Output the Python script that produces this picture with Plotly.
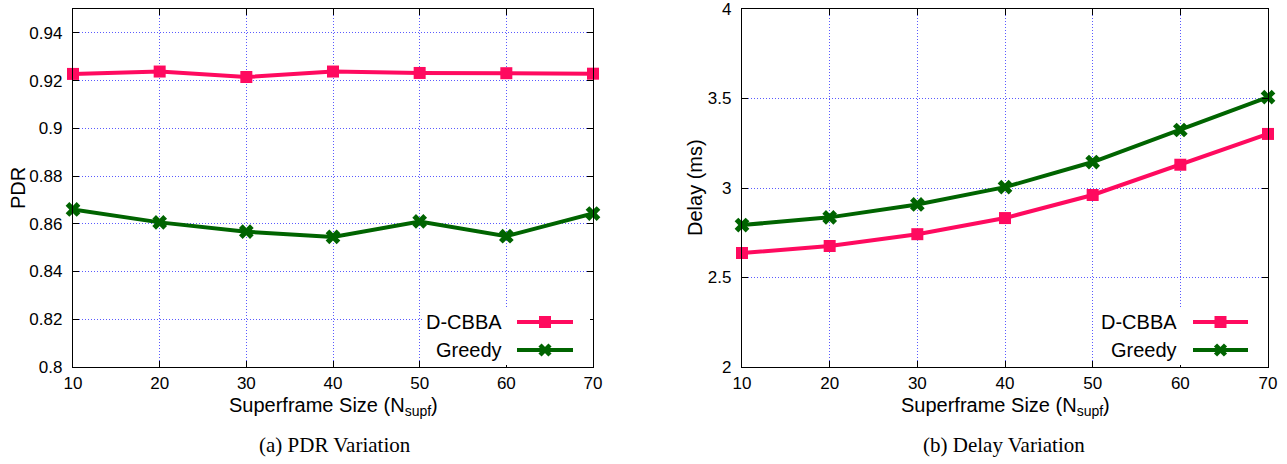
import plotly.graph_objects as go

superframe = [10, 20, 30, 40, 50, 60, 70]
pdr_dcbba = [0.9228, 0.9238, 0.9215, 0.9238, 0.9232, 0.9231, 0.9229]
pdr_greedy = [0.8660, 0.8606, 0.8567, 0.8545, 0.8610, 0.8548, 0.8643]
delay_dcbba = [2.637, 2.676, 2.742, 2.832, 2.961, 3.130, 3.302]
delay_greedy = [2.793, 2.836, 2.908, 3.005, 3.145, 3.324, 3.508]

pdr_ticks = [0.8, 0.82, 0.84, 0.86, 0.88, 0.9, 0.92, 0.94]
pdr_ticktext = ["0.8", "0.82", "0.84", "0.86", "0.88", "0.9", "0.92", "0.94"]
delay_ticks = [2, 2.5, 3, 3.5, 4]
delay_ticktext = ["2", "2.5", "3", "3.5", "4"]
x_ticks = [10, 20, 30, 40, 50, 60, 70]

series_names = ["D-CBBA", "Greedy"]
x_title = "Superframe Size (N<sub>supf</sub>)"
y_titles = ["PDR", "Delay (ms)"]
captions = ["(a) PDR Variation", "(b) Delay Variation"]

PINK = "#ff0a5f"
GREEN = "#006400"
FONT = "Liberation Sans"

W, H = 1287, 464
dom_l = [73 / W, 593 / W]
dom_r = [742 / W, 1268 / W]
dom_y = [(H - 367) / H, (H - 9) / H]

fig = go.Figure()

def add_series(y, name, color, symbol, size, xa, ya):
    fig.add_trace(go.Scatter(
        x=superframe, y=y, name=name, xaxis=xa, yaxis=ya, showlegend=False,
        mode="lines+markers", cliponaxis=False,
        line=dict(color=color, width=4),
        marker=dict(symbol=symbol, size=size, color=color, line=dict(width=0)),
    ))

add_series(pdr_dcbba, series_names[0], PINK, "square", 12, "x", "y")
add_series(pdr_greedy, series_names[1], GREEN, "x", 13, "x", "y")
add_series(delay_dcbba, series_names[0], PINK, "square", 12, "x2", "y2")
add_series(delay_greedy, series_names[1], GREEN, "x", 13, "x2", "y2")

grid = dict(showgrid=True, gridcolor="rgb(90,90,255)", gridwidth=1,
            griddash="1px,2px", showline=True, linecolor="black", linewidth=1.3,
            mirror="ticks", ticks="inside", ticklen=6, tickcolor="black",
            zeroline=False, automargin=False, ticklabeloverflow="allow",
            tickfont=dict(family=FONT, size=17, color="black"))

TITLE_FONT = dict(family=FONT, size=20, color="black")

fig.update_layout(
    width=W, height=H,
    margin=dict(l=0, r=0, t=0, b=0, autoexpand=False),
    paper_bgcolor="white", plot_bgcolor="white",
    showlegend=False,
    xaxis=dict(domain=dom_l, range=[10, 70], tickvals=x_ticks, anchor="y",
               ticklabelstandoff=0, **grid),
    yaxis=dict(domain=dom_y, range=[0.8, 0.95], tickvals=pdr_ticks,
               ticktext=pdr_ticktext, anchor="x", ticklabelstandoff=6, **grid),
    xaxis2=dict(domain=dom_r, range=[10, 70], tickvals=x_ticks, anchor="y2",
                ticklabelstandoff=0, **grid),
    yaxis2=dict(domain=dom_y, range=[2, 4], tickvals=delay_ticks,
                ticktext=delay_ticktext, anchor="x2", ticklabelstandoff=6, **grid),
)

def px(x):
    return x / W

def py(y):
    return (H - y) / H

# Axis titles
for d in (dom_l, dom_r):
    fig.add_annotation(text=x_title, xref="paper", yref="paper",
                       x=(d[0] + d[1]) / 2, y=py(406), xanchor="center", yanchor="middle",
                       showarrow=False, font=TITLE_FONT)
for t, xc in zip(y_titles, [18, 695]):
    fig.add_annotation(text=t, xref="paper", yref="paper", textangle=-90,
                       x=px(xc), y=py(188), xanchor="center", yanchor="middle",
                       showarrow=False, font=TITLE_FONT)

# Legend keys (text left of the line sample, gnuplot style), drawn in paper space
label_rows = [322, 350]
styles = [(PINK, "square"), (GREEN, "x")]

for text_right, key_l, key_r, box_l, box_r in [(504, 517, 573, 424, 590),
                                               (1179, 1193, 1248, 1098, 1265)]:
    fig.add_shape(type="rect", xref="paper", yref="paper",
                  x0=px(box_l), x1=px(box_r), y0=py(365), y1=py(307),
                  fillcolor="white", line=dict(width=0), layer="above")
    for name, row, (color, sym) in zip(series_names, label_rows, styles):
        fig.add_annotation(text=name, xref="paper", yref="paper",
                           x=px(text_right), y=py(row), xanchor="right", yanchor="middle",
                           showarrow=False, font=TITLE_FONT)
        fig.add_shape(type="line", xref="paper", yref="paper",
                      x0=px(key_l), x1=px(key_r), y0=py(row), y1=py(row),
                      line=dict(color=color, width=4), layer="above")
        cx = (key_l + key_r) / 2
        if sym == "square":
            fig.add_shape(type="rect", xref="paper", yref="paper",
                          x0=px(cx - 6), x1=px(cx + 6), y0=py(row - 6), y1=py(row + 6),
                          fillcolor=color, line=dict(width=0), layer="above")
        else:
            for dy in (-1, 1):
                fig.add_shape(type="line", xref="paper", yref="paper",
                              x0=px(cx - 5), x1=px(cx + 5),
                              y0=py(row - 5 * dy), y1=py(row + 5 * dy),
                              line=dict(color=color, width=4.5), layer="above")

# Sub-captions
for cap, cx in zip(captions, [335, 1004]):
    fig.add_annotation(text=cap, xref="paper", yref="paper",
                       x=cx / W, y=py(445), xanchor="center", yanchor="middle",
                       showarrow=False,
                       font=dict(family="Liberation Serif", size=21, color="black"))

fig.write_html("out.html", config={"displayModeBar": False},
               post_script="document.body.style.margin='0';document.body.style.padding='0';")
